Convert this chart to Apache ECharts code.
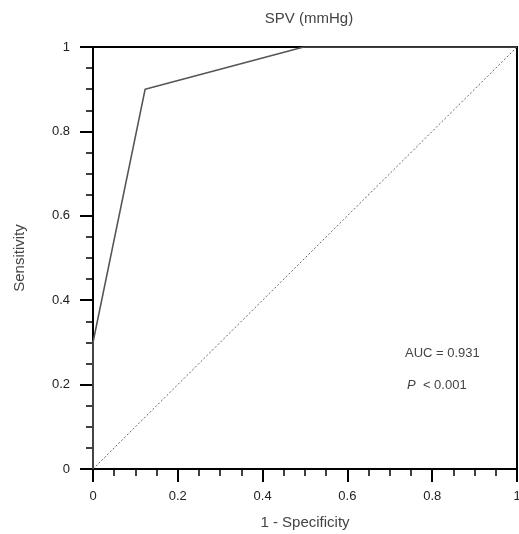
<!DOCTYPE html>
<html><head><meta charset="utf-8">
<script src="https://cdn.jsdelivr.net/npm/echarts@6/dist/echarts.min.js"></script>
<style>html,body{margin:0;padding:0;background:#fff}#c{width:519px;height:534px}</style>
</head><body><div id="c"></div>
<script>
var titleText = 'SPV (mmHg)';
var xName = '1 - Specificity';
var yName = 'Sensitivity';
var rocX = [0, 0, 0.123, 0.497, 1];
var rocY = [0, 0.3, 0.9, 1, 1];
var refX = [0, 1];
var refY = [0, 1];
var aucText = 'AUC = 0.931';
var pText = '< 0.001';

var chart = echarts.init(document.getElementById('c'));
var font = 'Liberation Sans, Arial, Helvetica, sans-serif';
function axisCommon(margin) {
  return {
    type: 'value', min: 0, max: 1, interval: 0.2,
    axisLine: {show: true, onZero: false, lineStyle: {color: '#000', width: 2}},
    axisTick: {show: true, inside: false, length: 13, lineStyle: {color: '#000', width: 2}},
    minorTick: {show: true, splitNumber: 4, length: 7, lineStyle: {color: '#000', width: 1.5}},
    splitLine: {show: false},
    minorSplitLine: {show: false},
    axisLabel: {color: '#222', fontSize: 13, fontFamily: font, margin: margin,
      formatter: function (v) { return String(Math.round(v * 10) / 10); }},
    nameTextStyle: {color: '#444', fontSize: 15, fontFamily: font}
  };
}
var xa = axisCommon(21);
xa.name = xName; xa.nameLocation = 'middle'; xa.nameGap = 46;
var ya = axisCommon(23);
ya.name = yName; ya.nameLocation = 'middle'; ya.nameGap = 66; ya.nameRotate = 90;

chart.setOption({
  animation: false,
  backgroundColor: '#fff',
  title: {text: titleText, left: 304, top: 6, textAlign: 'center',
    textStyle: {color: '#444', fontSize: 15, fontWeight: 'normal', fontFamily: font}},
  grid: {left: 93, right: 2, top: 47, bottom: 65, show: true, borderColor: '#000', borderWidth: 2,
    containLabel: false, outerBoundsMode: 'none'},
  xAxis: xa,
  yAxis: ya,
  series: [
    {type: 'line', data: refX.map(function (x, i) { return [x, refY[i]]; }),
      symbol: 'none', lineStyle: {color: '#666', width: 1, type: [2, 2]}, z: 1},
    {type: 'line', data: rocX.map(function (x, i) { return [x, rocY[i]]; }),
      symbol: 'none', lineStyle: {color: '#555', width: 1.6}, z: 2}
  ],
  graphic: [
    {type: 'text', left: 405, top: 347, style: {text: aucText, fill: '#444', font: '13px ' + font}},
    {type: 'text', left: 407, top: 379, style: {
      text: '{i|P}  ' + pText,
      rich: {i: {fontStyle: 'italic', fill: '#444', font: 'italic 13px ' + font}},
      fill: '#444', font: '13px ' + font}}
  ]
});
</script></body></html>
